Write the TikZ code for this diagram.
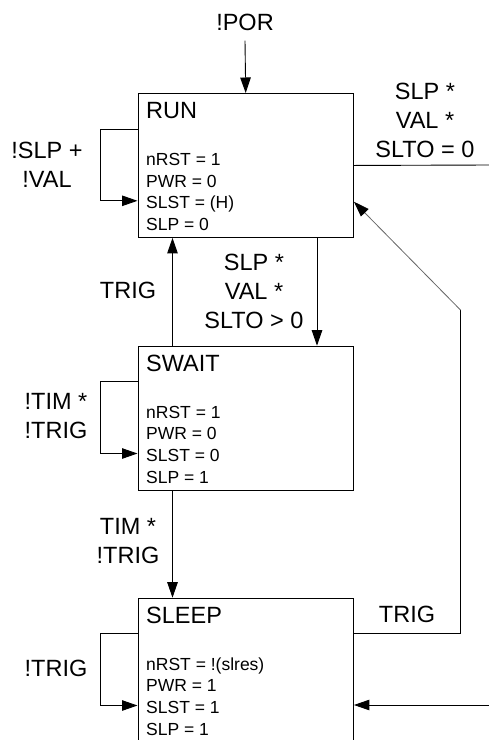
\documentclass[tikz,border=0pt]{standalone}
\usepackage{fontspec}
\setmainfont{Liberation Sans}
\usetikzlibrary{arrows.meta, positioning, calc}
\tikzset{
	statebox/.style={rectangle, draw=black, line width=0.9pt, anchor=north west, minimum width=215.5pt, minimum height=144pt, inner sep=0pt},
	stitle/.style={font=\fontsize{23.5}{28}\selectfont, anchor=base west, inner sep=0pt},
	sline/.style={font=\fontsize{17.5}{21}\selectfont, anchor=base west, inner sep=0pt},
	cond/.style={font=\fontsize{23.5}{29}\selectfont, align=center, inner sep=0pt},
	flowarrow/.style={-{Triangle[length=15.5pt, width=10.5pt, color=black]}, line width=0.9pt},
	wire/.style={line width=0.9pt},
}
\begin{document}
\begin{tikzpicture}[x=1pt, y=-1pt]
	\useasboundingbox (0,0) rectangle (489,740);
	\clip (0,0) rectangle (489,740);
	% state boxes with their outputs
	\foreach \nm/\ttl/\y/\lines in {run/RUN/93/{nRST = 1, PWR = 0, SLST = (H), SLP = 0},
		swait/SWAIT/345.7/{nRST = 1, PWR = 0, SLST = 0, SLP = 1},
		sleep/SLEEP/597.7/{nRST = !(slres), PWR = 1, SLST = 1, SLP = 1}} {
		\node[statebox] (\nm) at (137.5,\y) {};
		\node[stitle] (\nm-t) at (146,\y+25.5) {\ttl};
		\foreach \ln [count=\i from 0] in \lines {
			\node[sline] (\nm-l\i) at (146,\y+72.5+21.6*\i) {\ln};
		}
	}
	% self loops
	\foreach \nm in {run, swait, sleep} {
		\draw[flowarrow] ([yshift=-36pt]\nm.north west) -- ++(-37,0) |- ([yshift=-107.8pt]\nm.north west);
	}
	\node[cond] (c-run) at (47,165) {!SLP +\\!VAL};
	\node[cond] (c-swait) at (56,416) {!TIM *\\!TRIG};
	\node[cond] (c-sleep) at (56,668) {!TRIG};

	\node[cond] (por) at (245,22) {!POR};
	\draw[flowarrow] ([yshift=-10pt]por.south) -- (run.north);

	% run <-> swait
	\draw[flowarrow] ([xshift=179.5pt]run.south west) -- ([xshift=179.5pt]swait.north west);
	\node[cond] (c-rs) at (254,291) {SLP *\\VAL *\\SLTO > 0};
	\draw[flowarrow] ([xshift=35pt]swait.north west) -- ([xshift=35pt]run.south west);
	\node[cond] (c-sr) at (128,290) {TRIG};

	% swait -> sleep
	\draw[flowarrow] ([xshift=35pt]swait.south west) -- ([xshift=35pt]sleep.north west);
	\node[cond] (c-ss) at (128,541.5) {TIM *\\!TRIG};

	% sleep -> run
	\coordinate (bend) at (460.5,310);
	\draw[wire] ([yshift=-35.5pt]sleep.north east) -| (bend);
	\draw[flowarrow, draw=black!60, line width=0.8pt] (bend) -- ([yshift=-108.7pt]run.north east);
	\node[cond] (c-wake) at (407,614.5) {TRIG};

	% off-page lines
	\coordinate (outR) at (489,165);
	\coordinate (inR) at (489,705);
	\draw[wire] (run.east) -- (outR);
	\node[cond] (c-out) at (425,120) {SLP *\\VAL *\\SLTO = 0};
	\draw[flowarrow] (inR) -- (inR -| sleep.east);
\end{tikzpicture}
\end{document}
